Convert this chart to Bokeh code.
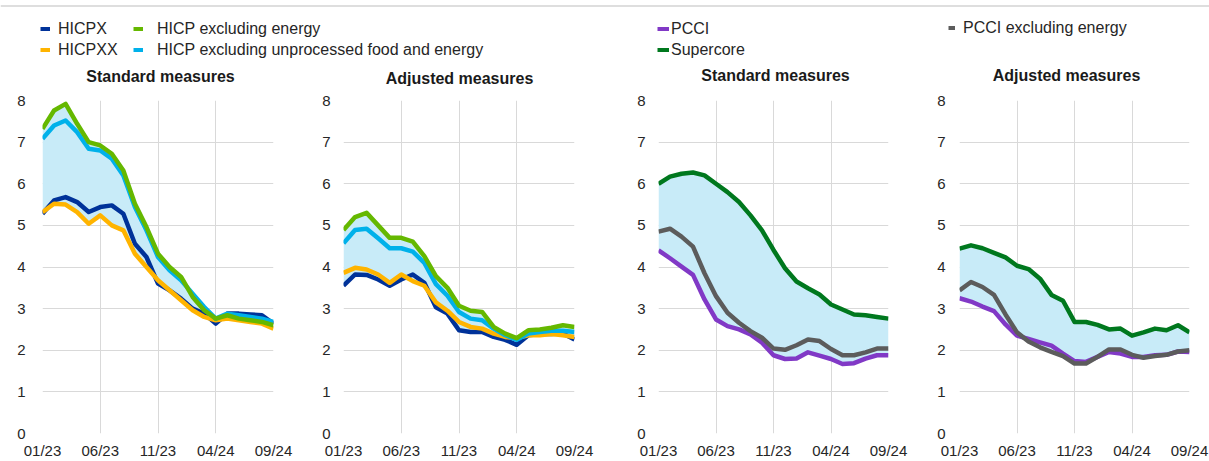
from bokeh.plotting import figure
from bokeh.layouts import column, row
from bokeh.models import Range1d, FixedTicker, Legend, LegendItem, Span, Label
from bokeh.embed import file_html
from bokeh.resources import INLINE

FONT = "Liberation Sans"

months = ["01/23", "02/23", "03/23", "04/23", "05/23", "06/23", "07/23", "08/23", "09/23",
          "10/23", "11/23", "12/23", "01/24", "02/24", "03/24", "04/24", "05/24", "06/24",
          "07/24", "08/24", "09/24"]
tick_idx = [0, 5, 10, 15, 20]
y_ticks = [0, 1, 2, 3, 4, 5, 6, 7, 8]
panel_titles = ["Standard measures", "Adjusted measures", "Standard measures", "Adjusted measures"]

# ---- Left pair: HICP-based measures ----
std_hicpx = [5.28, 5.60, 5.68, 5.56, 5.32, 5.44, 5.48, 5.28, 4.56, 4.24, 3.60, 3.44, 3.24, 3.00, 2.88, 2.64, 2.88, 2.88, 2.86, 2.84, 2.64]
std_hicpxx = [5.32, 5.52, 5.50, 5.32, 5.04, 5.24, 5.00, 4.88, 4.32, 4.00, 3.68, 3.44, 3.20, 2.96, 2.80, 2.72, 2.76, 2.72, 2.68, 2.64, 2.52]
std_hicp_ex_energy = [7.32, 7.76, 7.92, 7.44, 7.00, 6.92, 6.72, 6.32, 5.52, 4.96, 4.32, 4.00, 3.76, 3.28, 2.96, 2.76, 2.84, 2.76, 2.72, 2.68, 2.60]
std_hicp_ex_unproc = [7.08, 7.40, 7.52, 7.24, 6.84, 6.80, 6.60, 6.20, 5.44, 4.88, 4.24, 3.92, 3.68, 3.36, 3.04, 2.76, 2.88, 2.84, 2.80, 2.76, 2.68]

adj_hicpx = [3.55, 3.82, 3.81, 3.70, 3.55, 3.70, 3.82, 3.62, 3.03, 2.88, 2.48, 2.44, 2.44, 2.32, 2.25, 2.13, 2.36, 2.39, 2.39, 2.40, 2.26]
adj_hicpxx = [3.86, 3.98, 3.94, 3.82, 3.62, 3.82, 3.66, 3.55, 3.15, 2.95, 2.68, 2.56, 2.52, 2.40, 2.32, 2.29, 2.36, 2.36, 2.39, 2.36, 2.32]
adj_hicp_ex_energy = [4.89, 5.20, 5.30, 5.00, 4.70, 4.70, 4.61, 4.26, 3.78, 3.50, 3.07, 2.95, 2.92, 2.56, 2.40, 2.29, 2.48, 2.50, 2.54, 2.60, 2.56]
adj_hicp_ex_unproc = [4.57, 4.89, 4.92, 4.69, 4.45, 4.45, 4.37, 4.10, 3.59, 3.31, 2.92, 2.76, 2.72, 2.52, 2.36, 2.25, 2.40, 2.44, 2.47, 2.47, 2.44]

# ---- Right pair: PCCI-based measures ----
std_pcci = [4.40, 4.21, 4.01, 3.81, 3.22, 2.74, 2.58, 2.50, 2.38, 2.18, 1.88, 1.79, 1.80, 1.95, 1.87, 1.79, 1.67, 1.69, 1.80, 1.88, 1.88]
std_pcci_ex_energy = [4.85, 4.92, 4.73, 4.49, 3.85, 3.30, 2.90, 2.66, 2.46, 2.30, 2.04, 2.01, 2.12, 2.26, 2.22, 2.03, 1.88, 1.88, 1.95, 2.04, 2.04]
std_supercore = [6.00, 6.17, 6.24, 6.27, 6.20, 6.00, 5.80, 5.56, 5.24, 4.88, 4.41, 3.97, 3.65, 3.49, 3.34, 3.10, 2.98, 2.86, 2.84, 2.80, 2.76]

adj_pcci = [3.25, 3.17, 3.05, 2.94, 2.62, 2.35, 2.27, 2.19, 2.11, 1.92, 1.74, 1.72, 1.84, 1.96, 1.92, 1.84, 1.84, 1.88, 1.89, 1.97, 1.96]
adj_pcci_ex_energy = [3.44, 3.64, 3.52, 3.33, 2.86, 2.43, 2.21, 2.07, 1.96, 1.86, 1.68, 1.68, 1.84, 2.02, 2.02, 1.89, 1.82, 1.86, 1.89, 1.97, 2.00]
adj_supercore = [4.44, 4.52, 4.45, 4.34, 4.23, 4.03, 3.95, 3.72, 3.33, 3.19, 2.68, 2.68, 2.61, 2.50, 2.52, 2.35, 2.43, 2.52, 2.48, 2.60, 2.43]

C_HICPX = "#003299"
C_HICPXX = "#FFB400"
C_EX_EN = "#65B800"
C_EX_UNP = "#00B1EA"
C_PCCI = "#8139C6"
C_SUPER = "#00781E"
C_PCCI_EX = "#5C5C5C"
C_SHADE = "#C8EBF8"
C_GRID = "#D9D9D9"
C_TEXT = "#262626"

x = list(range(len(months)))
HEAD_H = 86
PANEL_H = 461 - HEAD_H


def make_panel(series, width, left, right, ylab_standoff):
    p = figure(width=width, height=PANEL_H, x_range=Range1d(0, len(months) - 1),
               y_range=Range1d(0, 8), output_backend="svg", toolbar_location=None,
               title=None,
               min_border_left=left, min_border_right=right, min_border_top=14,
               min_border_bottom=28)
    p.outline_line_color = None

    xt = FixedTicker(ticks=tick_idx)
    yt = FixedTicker(ticks=y_ticks)
    p.xaxis.ticker = xt
    p.yaxis.ticker = yt
    p.xgrid.ticker = xt
    p.ygrid.ticker = yt
    p.xaxis.major_label_overrides = {i: months[i] for i in tick_idx}
    for ax in (p.xaxis, p.yaxis):
        ax.axis_line_color = None
        ax.major_tick_line_color = None
        ax.minor_tick_line_color = None
        ax.major_tick_in = 0
        ax.major_tick_out = 0
        ax.major_label_text_font = FONT
        ax.major_label_text_font_size = "15px"
        ax.major_label_text_color = C_TEXT
    p.xaxis.major_label_standoff = 8
    p.yaxis.major_label_standoff = ylab_standoff
    p.grid.grid_line_color = C_GRID
    p.grid.grid_line_width = 1

    vals = [s for s, _ in series]
    lo = [min(v) for v in zip(*vals)]
    hi = [max(v) for v in zip(*vals)]
    p.varea(x=x, y1=lo, y2=hi, fill_color=C_SHADE)
    for s, c in series:
        p.line(x, s, line_color=c, line_width=4.5, line_join="round")
    return p


p1 = make_panel([(std_hicpx, C_HICPX), (std_hicpxx, C_HICPXX), (std_hicp_ex_unproc, C_EX_UNP), (std_hicp_ex_energy, C_EX_EN)],
                width=300, left=42, right=27, ylab_standoff=17)
p2 = make_panel([(adj_hicpx, C_HICPX), (adj_hicpxx, C_HICPXX), (adj_hicp_ex_unproc, C_EX_UNP), (adj_hicp_ex_energy, C_EX_EN)],
                width=315, left=43, right=41, ylab_standoff=13)
p3 = make_panel([(std_pcci, C_PCCI), (std_pcci_ex_energy, C_PCCI_EX), (std_supercore, C_SUPER)],
                width=295, left=43, right=22, ylab_standoff=13)
p4 = make_panel([(adj_pcci, C_PCCI), (adj_pcci_ex_energy, C_PCCI_EX), (adj_supercore, C_SUPER)],
                width=299, left=49, right=20, ylab_standoff=14)

# ---- Header strip: legends and panel titles (pixel coordinates) ----
LW = 1209
lg = figure(width=LW, height=HEAD_H, x_range=Range1d(0, LW), y_range=Range1d(0, HEAD_H),
            output_backend="svg", toolbar_location=None, x_axis_location=None,
            y_axis_location=None, min_border=0)
lg.min_border_left = 0
lg.min_border_right = 0
lg.min_border_top = 0
lg.min_border_bottom = 0
lg.outline_line_color = None
lg.grid.visible = False
lg.add_layout(Span(location=HEAD_H - 5.5, dimension="width", line_color="#DEDEDE", line_width=2))

title_pos = [(160, 10), (459, 8), (775, 11), (1066, 11)]
for t, (tx, ty) in zip(panel_titles, title_pos):
    lg.add_layout(Label(x=tx, y=ty, text=t, text_align="center", text_baseline="middle",
                        text_font=FONT, text_font_size="16px", text_font_style="bold",
                        text_color="#1a1a1a"))


def dummy(color, width=4):
    # off-screen renderer used only to draw the legend swatch
    return lg.line(x=[-100, -90], y=[-100, -100], line_color=color, line_width=width)


r_hicpx = dummy(C_HICPX)
r_hicpxx = dummy(C_HICPXX)
r_exen = dummy(C_EX_EN)
r_exunp = dummy(C_EX_UNP)
r_pcci = dummy(C_PCCI)
r_super = dummy(C_SUPER)
r_pccix = dummy(C_PCCI_EX, 4)


def add_legend(items, loc, gw, standoff):
    leg = Legend(items=[LegendItem(label=l, renderers=[r]) for l, r in items],
                 location=loc, orientation="vertical", padding=0, margin=0, spacing=2,
                 label_height=19, glyph_height=19, glyph_width=gw, label_standoff=standoff,
                 label_text_font=FONT, label_text_font_size="16px", label_text_color=C_TEXT,
                 border_line_color=None, background_fill_alpha=0)
    lg.add_layout(leg)


add_legend([("HICPX", r_hicpx), ("HICPXX", r_hicpxx)], (40, 27), 10, 8)
add_legend([("HICP excluding energy", r_exen), ("HICP excluding unprocessed food and energy", r_exunp)], (133, 27), 10, 14)
add_legend([("PCCI", r_pcci), ("Supercore", r_super)], (657, 27), 12, 2)
add_legend([("PCCI excluding energy", r_pccix)], (948, 49), 7, 8)

layout = column(lg, row(p1, p2, p3, p4, spacing=0), spacing=0)

open("out.html", "w").write(file_html(layout, INLINE))
